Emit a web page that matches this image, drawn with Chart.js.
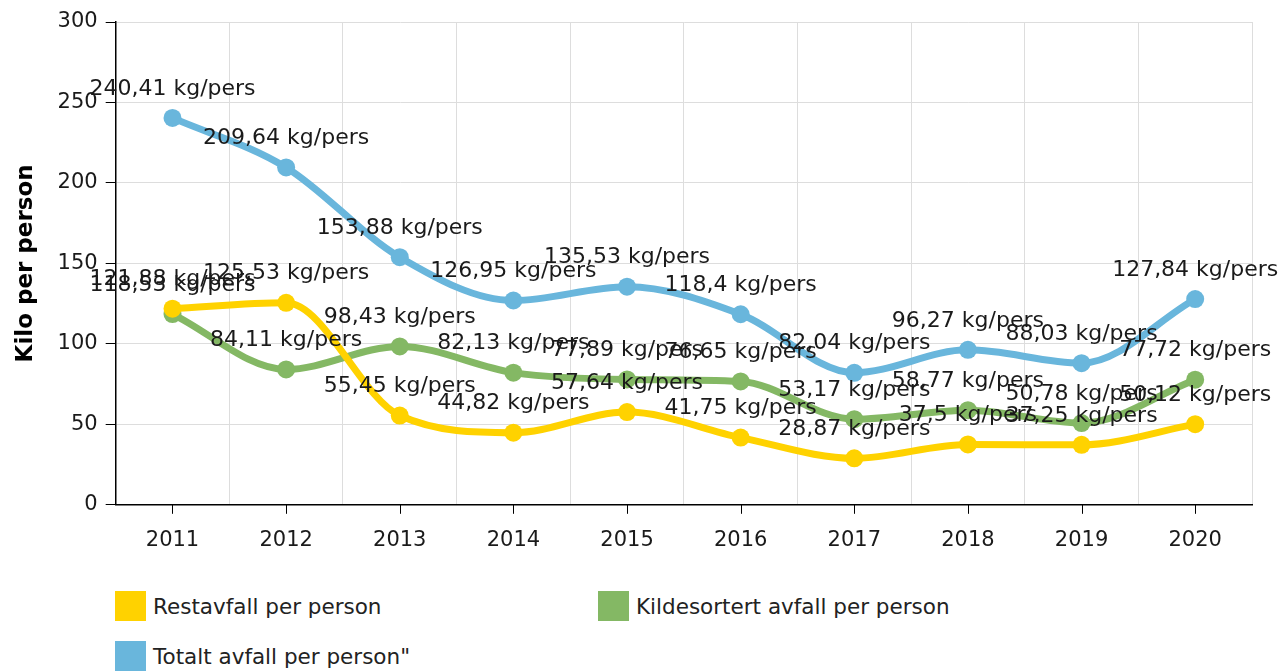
<!DOCTYPE html>
<html>
<head>
<meta charset="utf-8">
<script src="https://cdn.jsdelivr.net/npm/chart.js@4"></script>
<style>
  html, body { margin: 0; padding: 0; background: #fff; }
  #wrap { position: relative; width: 1280px; height: 671px; overflow: hidden; }
  #chartBox { position: absolute; left: 0; top: 0; width: 1280px; height: 576px; }
  #legend { position: absolute; left: 115px; top: 591px; width: 1100px; font-family: "DejaVu Sans", Verdana, sans-serif; font-size: 21.5px; color: #222; }
  .item { position: absolute; display: flex; align-items: center; white-space: nowrap; }
  .box { width: 31px; height: 30px; margin-right: 7px; }
</style>
</head>
<body>
<div id="wrap">
  <div id="chartBox"><canvas id="wasteChart"></canvas></div>
  <div id="legend"></div>
</div>
<script>
// Years on the x axis
const years = ["2011", "2012", "2013", "2014", "2015", "2016", "2017", "2018", "2019", "2020"];

// Kilo per person
const restavfall = [121.88, 125.53, 55.45, 44.82, 57.64, 41.75, 28.87, 37.5, 37.25, 50.12];
const kildesortert = [118.53, 84.11, 98.43, 82.13, 77.89, 76.65, 53.17, 58.77, 50.78, 77.72];
const totalt = [240.41, 209.64, 153.88, 126.95, 135.53, 118.4, 82.04, 96.27, 88.03, 127.84];

const seriesNames = ["Restavfall per person", "Kildesortert avfall per person", "Totalt avfall per person\""];
const seriesColors = ["#FFD200", "#84B864", "#69B6DC"];

const fontFamily = "'DejaVu Sans', Verdana, sans-serif";

// Format like 121,88 kg/pers
function formatLabel(v) {
    return String(v).replace(".", ",") + " kg/pers";
}

// Plugin: value labels above each point
const pointLabels = {
    id: "pointLabels",
    afterDatasetsDraw(chart) {
        const ctx = chart.ctx;
        ctx.save();
        ctx.font = "22px " + fontFamily;
        ctx.fillStyle = "#1a1a1a";
        ctx.textAlign = "center";
        ctx.textBaseline = "middle";
        chart.data.datasets.forEach((ds, i) => {
            const meta = chart.getDatasetMeta(i);
            meta.data.forEach((pt, j) => {
                ctx.fillText(formatLabel(ds.data[j]), pt.x, pt.y - 29);
            });
        });
        ctx.restore();
    }
};

// Plugin: x tick marks at the category centres (grid lines sit between)
const centreTicks = {
    id: "centreTicks",
    afterDraw(chart) {
        const x = chart.scales.x;
        const ctx = chart.ctx;
        ctx.save();
        ctx.strokeStyle = "#000";
        ctx.lineWidth = 1;
        years.forEach((y, i) => {
            const px = Math.round(x.getPixelForValue(i)) + 0.5;
            ctx.beginPath();
            ctx.moveTo(px, x.top);
            ctx.lineTo(px, x.top + 9);
            ctx.stroke();
        });
        ctx.restore();
    }
};

const datasets = [restavfall, kildesortert, totalt].map((values, i) => ({
    label: seriesNames[i],
    data: values,
    borderColor: seriesColors[i],
    backgroundColor: seriesColors[i],
    borderWidth: 7,
    pointRadius: 9,
    pointHoverRadius: 9,
    pointBorderWidth: 0,
    cubicInterpolationMode: "monotone",
    fill: false
}));

new Chart(document.getElementById("wasteChart"), {
    type: "line",
    data: { labels: years, datasets: datasets },
    options: {
        responsive: true,
        maintainAspectRatio: false,
        animation: false,
        layout: { padding: { top: 22, right: 28, left: 12, bottom: 0 } },
        plugins: {
            legend: { display: false },
            tooltip: { enabled: false }
        },
        scales: {
            x: {
                offset: true,
                grid: { offset: true, color: "#dddddd", drawTicks: false },
                border: { color: "#000", width: 1.5 },
                ticks: { color: "#1a1a1a", font: { family: fontFamily, size: 21 }, padding: 23, maxRotation: 0 }
            },
            y: {
                min: 0,
                max: 300,
                ticks: { stepSize: 50, color: "#1a1a1a", font: { family: fontFamily, size: 21 }, padding: 8 },
                grid: { color: "#dddddd", tickColor: "#000", tickLength: 10 },
                border: { color: "#000", width: 1.5 },
                title: {
                    display: true,
                    text: "Kilo per person",
                    color: "#000",
                    font: { family: fontFamily, size: 23, weight: "bold" },
                    padding: { top: 0, bottom: 10 }
                }
            }
        }
    },
    plugins: [pointLabels, centreTicks]
});

// HTML legend in two columns
const legend = document.getElementById("legend");
const legendPos = [[0, 0], [483, 0], [0, 50]];
seriesNames.forEach((name, i) => {
    const item = document.createElement("div");
    item.className = "item";
    item.style.left = legendPos[i][0] + "px";
    item.style.top = legendPos[i][1] + "px";
    item.innerHTML = '<span class="box" style="background:' + seriesColors[i] + '"></span>' + name;
    legend.appendChild(item);
});
</script>
</body>
</html>
